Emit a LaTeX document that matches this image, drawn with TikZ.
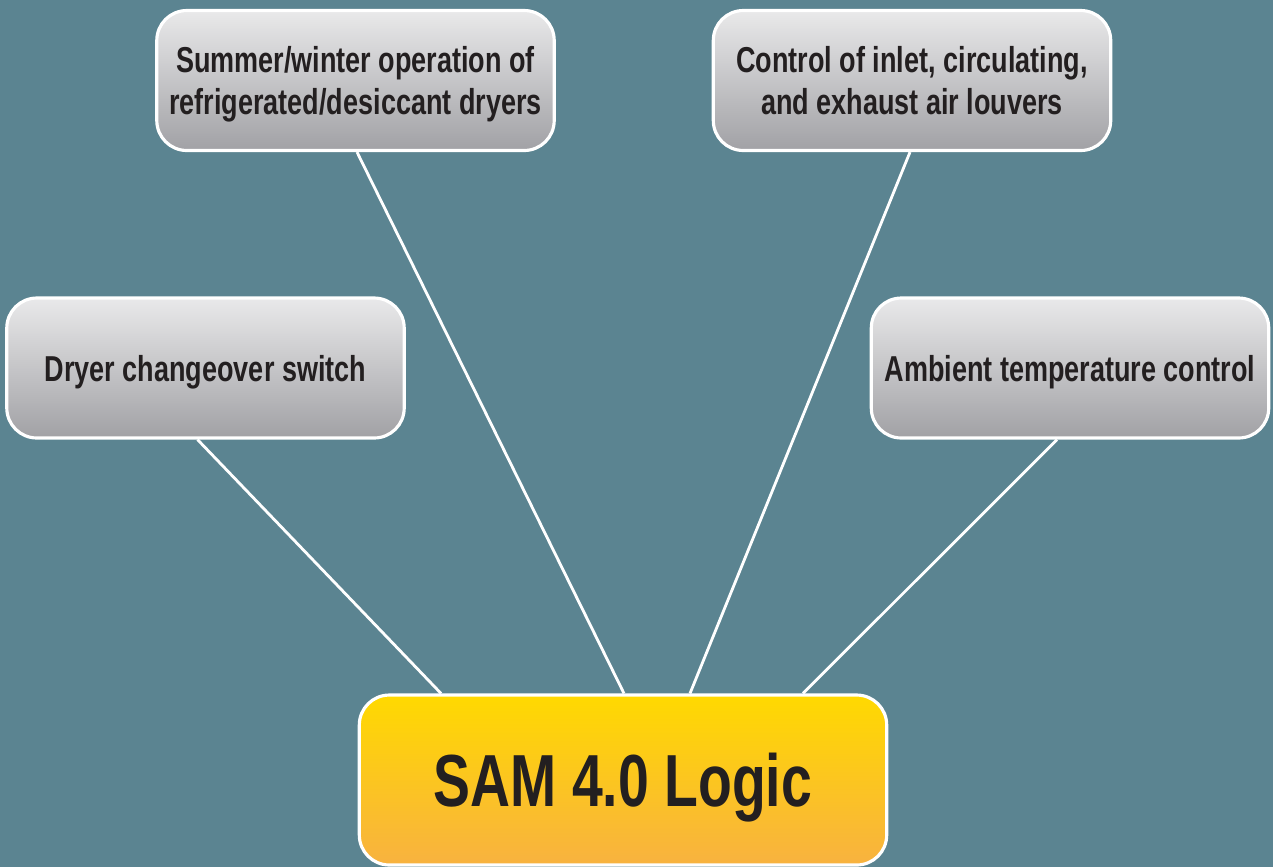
\documentclass[tikz,border=0pt]{standalone}
\usepackage{fontspec}
\setmainfont{Liberation Sans}[FakeStretch=0.75]
\begin{document}
\begin{tikzpicture}[x=0.02cm,y=-0.02cm,
  item/.style={draw=white,line width=1.8pt,rounded corners=0.6cm,
    top color=boxtop,bottom color=boxbot,text=ink,align=center,
    minimum width=7.95cm,minimum height=2.8cm,text depth=0pt,
    font=\fontsize{20.5}{24}\selectfont\bfseries},
  link/.style={draw=white,line width=1.6pt}]
  \definecolor{backg}{HTML}{5B8491}
  \definecolor{boxtop}{HTML}{E9E9EA}
  \definecolor{boxbot}{HTML}{A1A1A5}
  \definecolor{samtop}{HTML}{FFD900}
  \definecolor{sammid}{HTML}{FFD24A}
  \definecolor{sambot}{HTML}{F8B240}
  \definecolor{ink}{HTML}{231F20}
  \fill [backg] (0,0) rectangle (1273,867);
  \useasboundingbox (0,0) rectangle (1273,867);
  \node [item] (sum) at (355.5,80.5) {Summer/winter operation of\\refrigerated/desiccant dryers};
  \node [item] (ctl) at (912,80.5) {Control of inlet, circulating,\\and exhaust air louvers};
  \node [item] (dry) at (205.5,368) {Dryer changeover switch};
  \node [item] (amb) at (1070,368) {Ambient temperature control};
  \node [item,minimum width=10.55cm,minimum height=3.4cm,
    top color=samtop,middle color=sammid,bottom color=sambot,
    font=\fontsize{42}{46}\selectfont\bfseries] (sam) at (623,780) {SAM 4.0 Logic};
  \draw [link] ([xshift=-0.16cm]dry.south) -- ([xshift=-3.64cm]sam.north);
  \draw [link] ([xshift=0.03cm]sum.south) -- ([xshift=0.02cm]sam.north);
  \draw [link] ([xshift=-0.04cm]ctl.south) -- ([xshift=1.34cm]sam.north);
  \draw [link] ([xshift=-0.26cm]amb.south) -- ([xshift=3.6cm]sam.north);
\end{tikzpicture}
\end{document}
